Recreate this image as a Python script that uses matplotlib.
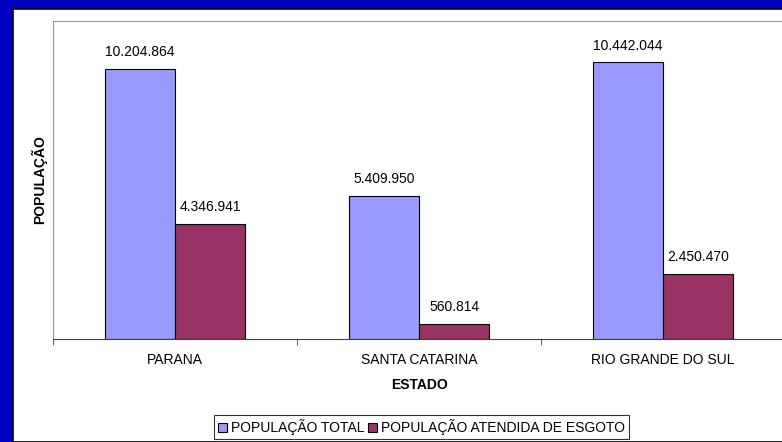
import numpy as np
import matplotlib.pyplot as plt
from matplotlib.patches import Rectangle

plt.rcParams['font.family'] = ['Liberation Sans', 'DejaVu Sans']

# dados
estados = ['PARANA', 'SANTA CATARINA', 'RIO GRANDE DO SUL']
pop_total = [10204864, 5409950, 10442044]
pop_esgoto = [4346941, 560814, 2450470]
rotulos_total = ['10.204.864', '5.409.950', '10.442.044']
rotulos_esgoto = ['4.346.941', '560.814', '2.450.470']

W, H = 782, 442
fs = 10
fig = plt.figure(figsize=(W / 100, H / 100), dpi=100)
fig.patch.set_facecolor('#0000C0')

# fundo branco com borda preta
fig.patches.append(Rectangle((13 / W, 0), 1.0, 1 - 9 / H, transform=fig.transFigure,
                             facecolor='white', edgecolor='black', linewidth=1.2, zorder=-5))

ax = fig.add_axes([53 / W, 1 - 339 / H, 732 / W, (339 - 21) / H])
ax.set_facecolor('white')

x = np.arange(len(estados))
larg = 0.287
b1 = ax.bar(x - larg / 2, pop_total, larg, color='#9999FF', edgecolor='black', linewidth=0.8,
            label='POPULAÇÃO TOTAL')
b2 = ax.bar(x + larg / 2, pop_esgoto, larg, color='#993366', edgecolor='black', linewidth=0.8,
            label='POPULAÇÃO ATENDIDA DE ESGOTO')

for barras, rot in [(b1, rotulos_total), (b2, rotulos_esgoto)]:
    for b, r in zip(barras, rot):
        ax.annotate(r, (b.get_x() + b.get_width() / 2, b.get_height()), xytext=(0, 12),
                    textcoords='offset points', ha='center', va='center', fontsize=fs)

ax.set_xlim(-0.5, 2.5)
ax.set_ylim(0, 12000000)
ax.set_yticks([])
ax.set_xticks(x)
ax.set_xticklabels(estados, fontsize=fs)
ax.tick_params(axis='x', which='major', length=0, pad=10)
ax.set_xticks([-0.5, 0.5, 1.5, 2.5], minor=True)
ax.tick_params(axis='x', which='minor', length=4, color='#404040')

for s in ['top', 'left', 'right']:
    ax.spines[s].set_color('#999999')
ax.spines['bottom'].set_color('#404040')

ax.set_xlabel('ESTADO', fontsize=fs, fontweight='bold', labelpad=8)
ax.set_ylabel('POPULAÇÃO', fontsize=fs, fontweight='bold', labelpad=4)

leg = fig.legend(loc='upper left', bbox_to_anchor=(214 / W, 1 - 415 / H), ncol=2, fontsize=fs,
                 frameon=True, fancybox=False, edgecolor='black', handlelength=0.6,
                 handleheight=0.6, handletextpad=0.3, columnspacing=0.3, borderpad=0.3,
                 borderaxespad=0)
leg.get_frame().set_linewidth(0.8)

fig.savefig('out.png', dpi=100, facecolor=fig.get_facecolor())
